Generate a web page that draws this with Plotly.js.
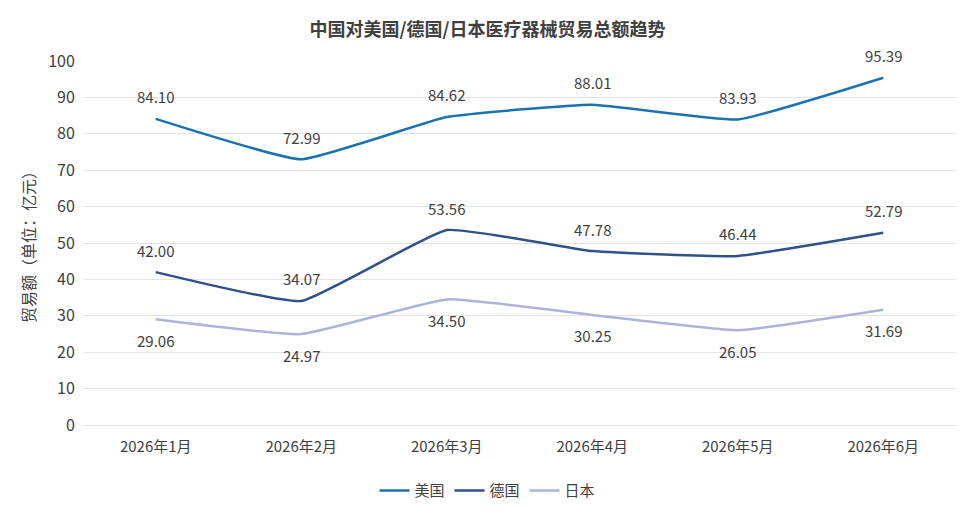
<!DOCTYPE html>
<html><head><meta charset="utf-8">
<script src="https://cdn.plot.ly/plotly-3.0.1.min.js"></script>
<style>html,body{margin:0;padding:0;background:#fff}#c{width:975px;height:515px}</style>
</head><body><div id="c"></div>
<script>
const months = ["2026年1月","2026年2月","2026年3月","2026年4月","2026年5月","2026年6月"];
const usa = [84.10, 72.99, 84.62, 88.01, 83.93, 95.39];
const germany = [42.00, 34.07, 53.56, 47.78, 46.44, 52.79];
const japan = [29.06, 24.97, 34.50, 30.25, 26.05, 31.69];
const seriesNames = ["美国","德国","日本"];
const colors = ["#1b72b1","#2f5189","#a9b5d8"];
const font = "Noto Sans CJK SC, Noto Sans, sans-serif";
function tr(name, y, color){
  return {x: months, y: y, name: name, type:"scatter", mode:"lines",
    line:{color: color, width: 2.5, shape:"spline", smoothing:0.35}, hoverinfo:"skip"};
}
const data = [
  tr(seriesNames[0], usa, colors[0]),
  tr(seriesNames[1], germany, colors[1]),
  tr(seriesNames[2], japan, colors[2])
];
const annotations = [];
[[usa, 22], [germany, 22], [japan, -21]].forEach(([arr, shift]) => {
  arr.forEach((v, i) => annotations.push({x: months[i], y: v, xref:"x", yref:"y",
    text: v.toFixed(2), showarrow:false, yshift: shift,
    font:{size:15, color:"#404040", family: font}}));
});
const layout = {
  width:975, height:515, paper_bgcolor:"#fff", plot_bgcolor:"#fff",
  margin:{l:83, r:19, t:61, b:90},
  font:{family: font, color:"#404040"},
  title:{text:"<b>中国对美国/德国/日本医疗器械贸易总额趋势</b>", x:0.5, xanchor:"center", y:0.943, yanchor:"middle",
    font:{size:18, color:"#404040", family: font}},
  xaxis:{type:"category", range:[-0.5,5.5], showgrid:false, zeroline:false, showline:false,
    ticks:"outside", ticklen:8, tickcolor:"rgba(0,0,0,0)",
    tickfont:{size:15, color:"#404040"}, fixedrange:true},
  yaxis:{range:[0,100], dtick:10, showgrid:true, gridcolor:"#e4e4e4", gridwidth:1, zeroline:true, zerolinecolor:"#e4e4e4",
    ticks:"", ticklen:0, tickfont:{size:16, color:"#404040"}, ticksuffix:"  ",
    title:{text:"贸易额（单位：亿元）", font:{size:16, color:"#404040"}, standoff:8}},
  legend:{orientation:"h", x:0.5, xanchor:"center", xref:"container", y:0.047, yref:"container", yanchor:"middle",
    font:{size:15, color:"#404040"}, itemwidth:30, tracegroupgap:0},
  annotations: annotations,
  showlegend:true
};
Plotly.newPlot("c", data, layout, {displayModeBar:false, staticPlot:true});
</script></body></html>
